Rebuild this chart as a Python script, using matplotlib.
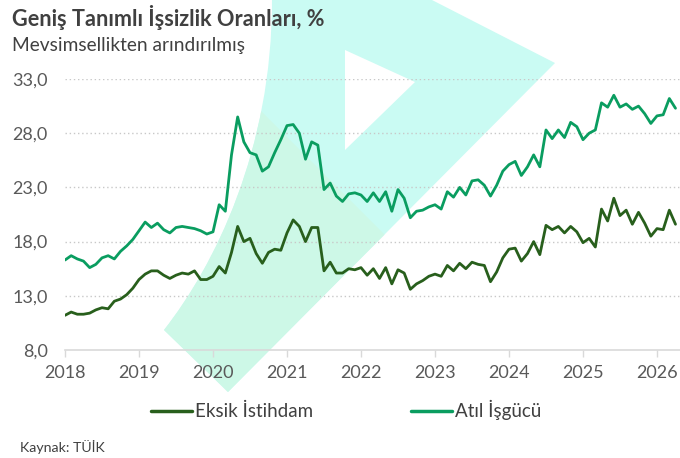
import numpy as np
import matplotlib
matplotlib.use("Agg")
import matplotlib.pyplot as plt
from matplotlib.path import Path
from matplotlib.patches import PathPatch, Polygon

plt.rcParams['font.family'] = ['Lato', 'DejaVu Sans']

# ---- data (monthly, Jan 2018 .. Apr 2026) ----
start_year = 2018
eksik_istihdam = [
    11.2, 11.5, 11.3, 11.3, 11.4, 11.7, 11.9, 11.8, 12.5, 12.7, 13.1, 13.7,   # 2018
    14.5, 15.0, 15.3, 15.3, 14.9, 14.6, 14.9, 15.1, 15.0, 15.3, 14.5, 14.5,   # 2019
    14.8, 15.7, 15.1, 17.0, 19.4, 18.0, 18.3, 16.9, 16.0, 17.0, 17.3, 17.2,   # 2020
    18.8, 20.0, 19.4, 18.0, 19.3, 19.3, 15.3, 16.1, 15.1, 15.1, 15.5, 15.4,   # 2021
    15.6, 14.9, 15.5, 14.6, 15.6, 14.1, 15.4, 15.1, 13.6, 14.1, 14.4, 14.8,   # 2022
    15.0, 14.8, 15.8, 15.3, 16.0, 15.5, 16.1, 15.9, 15.8, 14.3, 15.2, 16.5,   # 2023
    17.3, 17.4, 16.2, 16.9, 18.0, 16.8, 19.5, 19.1, 19.4, 18.8, 19.4, 18.9,   # 2024
    17.9, 18.3, 17.5, 21.0, 19.9, 22.0, 20.4, 20.9, 19.6, 20.7, 19.7, 18.5,   # 2025
    19.2, 19.1, 20.9, 19.6,                                                   # 2026
]
atil_isgucu = [
    16.3, 16.7, 16.4, 16.2, 15.6, 15.9, 16.5, 16.7, 16.4, 17.1, 17.6, 18.2,   # 2018
    19.0, 19.8, 19.3, 19.7, 19.1, 18.8, 19.3, 19.4, 19.3, 19.2, 19.0, 18.7,   # 2019
    18.9, 21.4, 20.8, 26.0, 29.5, 27.2, 26.2, 26.0, 24.5, 24.9, 26.2, 27.4,   # 2020
    28.7, 28.8, 28.0, 25.6, 27.2, 26.9, 22.8, 23.4, 22.2, 21.7, 22.4, 22.5,   # 2021
    22.3, 21.7, 22.5, 21.7, 22.6, 20.8, 22.8, 22.0, 20.2, 20.8, 20.9, 21.2,   # 2022
    21.4, 21.0, 22.6, 22.1, 23.0, 22.3, 23.6, 23.7, 23.2, 22.2, 23.2, 24.5,   # 2023
    25.1, 25.4, 24.1, 24.9, 26.0, 24.9, 28.3, 27.5, 28.3, 27.6, 29.0, 28.6,   # 2024
    27.4, 28.0, 28.3, 30.8, 30.4, 31.5, 30.4, 30.7, 30.2, 30.5, 29.8, 28.9,   # 2025
    29.6, 29.7, 31.2, 30.3,                                                   # 2026
]
series_names = ["Eksik İstihdam", "Atıl İşgücü"]
years = list(range(2018, 2027))
y_ticks = [8.0, 13.0, 18.0, 23.0, 28.0, 33.0]

x = start_year + np.arange(len(eksik_istihdam)) / 12.0

W, H = 680, 458
fig = plt.figure(figsize=(W / 100, H / 100), dpi=100)
fig.patch.set_facecolor('white')

def fx(px):
    return px / W

def fy(py):
    return 1 - py / H

# ---- background watermark (decorative logo shape) ----
verts = [(272, 0), (432, 0), (555, 63), (228, 392), (164, 330),
         (215, 265), (272, 150), (272, 0), (272, 0)]
codes = [Path.MOVETO, Path.LINETO, Path.LINETO, Path.LINETO, Path.LINETO,
         Path.CURVE4, Path.CURVE4, Path.CURVE4, Path.CLOSEPOLY]
path = Path([(fx(a), fy(b)) for a, b in verts], codes)
shape = PathPatch(path, facecolor='#cafbf3', edgecolor='none',
                  transform=fig.transFigure, zorder=-3)
fig.patches.append(shape)
lower = Polygon([(fx(a), fy(b)) for a, b in [(0, -150), (700, 550), (0, 550)]],
                closed=True, facecolor='#cdf8e7', edgecolor='none',
                transform=fig.transFigure, zorder=-2)
lower.set_clip_path(shape)
fig.patches.append(lower)
notch = [(345, 50), (415, 82), (345, 150)]
fig.patches.append(Polygon([(fx(a), fy(b)) for a, b in notch], closed=True,
                           facecolor='white', edgecolor='none',
                           transform=fig.transFigure, zorder=-1))

# ---- axes ----
ax = fig.add_axes([fx(65), fy(350), fx(680) - fx(65), fy(79) - fy(350)])
ax.set_facecolor('none')

dark = '#285f1c'
light = '#0a9d60'
ax.plot(x, eksik_istihdam, color=dark, lw=2.0, solid_joinstyle='round',
        solid_capstyle='round', label=series_names[0], zorder=3)
ax.plot(x, atil_isgucu, color=light, lw=2.0, solid_joinstyle='round',
        solid_capstyle='round', label=series_names[1], zorder=3)

ax.set_ylim(8, 33)
ax.set_xlim(2018, 2018 + (680 - 65) / 74.0)
ax.set_yticks(y_ticks)
ax.set_yticklabels([f"{v:.1f}".replace('.', ',') for v in y_ticks])
ax.set_xticks(years)
ax.set_xticklabels([str(y) for y in years])

for v in y_ticks[1:]:
    ax.axhline(v, color='#c8c8c8', lw=1.0, ls=(0, (1, 2)), zorder=1)

for s in ['top', 'right', 'left']:
    ax.spines[s].set_visible(False)
ax.spines['bottom'].set_color('#d9d9d9')
ax.spines['bottom'].set_linewidth(1.2)
ax.tick_params(axis='y', length=0, pad=12.5, labelsize=13, labelcolor='#595959')
ax.tick_params(axis='x', length=5, width=1.0, color='#d9d9d9', direction='out',
               pad=6, labelsize=13, labelcolor='#595959')

# ---- texts ----
fig.text(fx(12), fy(17), "Geniş Tanımlı İşsizlik Oranları, %", fontsize=15.6,
         fontweight='bold', color='#404040', ha='left', va='center')
fig.text(fx(12), fy(45), "Mevsimsellikten arındırılmış", fontsize=13.8,
         color='#404040', ha='left', va='center')
fig.text(fx(20), fy(447), "Kaynak: TÜİK", fontsize=10.2, color='#404040',
         ha='left', va='center')

leg = fig.legend(loc='center', bbox_to_anchor=(fx(346), fy(410)), ncol=2,
                 frameon=False, fontsize=13.5, handlelength=2.2,
                 handletextpad=0.15, columnspacing=5.2)
for t in leg.get_texts():
    t.set_color('#404040')
for l in leg.get_lines():
    l.set_linewidth(2.5)

fig.savefig('out.png', dpi=100)
